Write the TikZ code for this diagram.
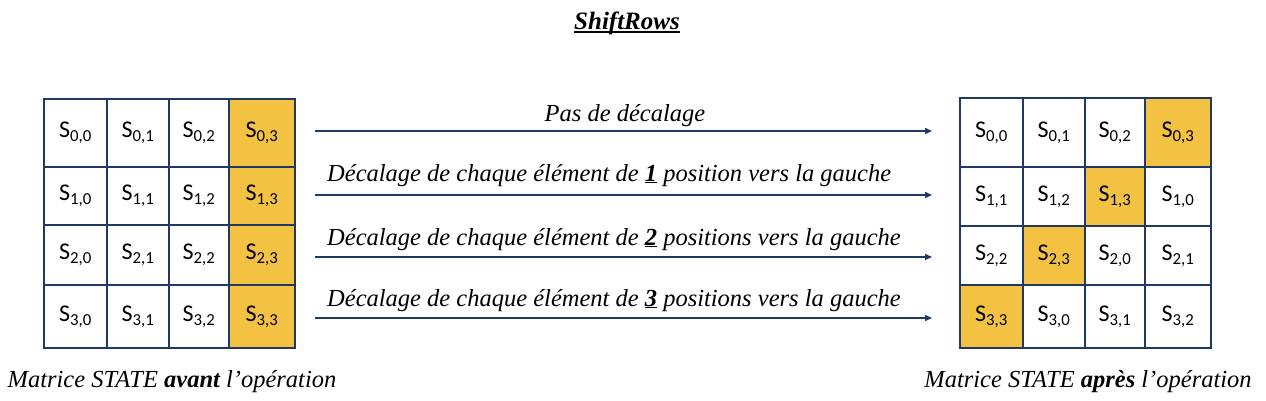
\documentclass[tikz,border=0pt]{standalone}
\usepackage{fontspec}
\setmainfont{Liberation Serif}
\newfontfamily\cellfont{Carlito}
\usetikzlibrary{arrows.meta}
\definecolor{navy}{RGB}{31,56,100}
\definecolor{gold}{RGB}{244,194,66}
\newcommand\thickul[1]{\setbox0\hbox{#1}\rlap{\rule[-4pt]{\wd0}{2.2pt}}\box0}
\tikzset{
  cell/.style={draw=navy, line width=1.5pt, inner sep=0pt, fill=#1,
    font=\cellfont\fontsize{24}{28}\selectfont},
  cell/.default=white,
  shiftarrow/.style={navy, line width=1.5pt, -{Triangle[length=7pt,width=6pt]}},
  caption/.style={font=\fontsize{24.5}{28}\selectfont\itshape, inner sep=0pt, anchor=base},
}
\begin{document}
\begin{tikzpicture}[x=1pt,y=-1pt]
\useasboundingbox (0,0) rectangle (1266,400);
% title
\node[font=\fontsize{25}{28}\selectfont\bfseries\itshape, inner sep=0pt, anchor=base] (title) at (627,29) {\thickul{ShiftRows}};
% STATE before
\foreach \r/\ya/\yb in {0/99/167,1/167/225,2/225/285,3/285/348}{
  \foreach \c/\xa/\xb in {0/44/107,1/107/169,2/169/229,3/229/295}{
    \def\fillcol{white}
    \ifnum\c=3 \def\fillcol{gold}\fi
    \node[cell=\fillcol, minimum width=\xb pt-\xa pt, minimum height=\yb pt-\ya pt]
      (L\r\c) at ({(\xa+\xb)/2},{(\ya+\yb)/2}) {S\textsubscript{\r,\c}};
  }
}
% STATE after
\foreach \r/\ya/\yb in {0/98/167,1/167/226,2/226/285,3/285/348}{
  \foreach \c/\xa/\xb in {0/960/1023,1/1023/1085,2/1085/1145,3/1145/1211}{
    \pgfmathtruncatemacro{\k}{mod(\c+\r,4)}
    \pgfmathtruncatemacro{\d}{\c+\r}
    \def\fillcol{white}
    \ifnum\d=3 \def\fillcol{gold}\fi
    \node[cell=\fillcol, minimum width=\xb pt-\xa pt, minimum height=\yb pt-\ya pt]
      (R\r\c) at ({(\xa+\xb)/2},{(\ya+\yb)/2}) {S\textsubscript{\r,\k}};
  }
}
% arrows
\foreach \i/\y in {0/131,1/195,2/257,3/318}{
  \coordinate (s\i) at (315,\y);
  \coordinate (e\i) at (932,\y);
  \draw[shiftarrow] (s\i) -- (e\i);
}
\node[caption] (pas) at (625,121) {Pas de décalage};
\foreach \i/\y/\n/\p in {1/181/1/position,2/245/2/positions,3/306/3/positions}
  \node[caption, anchor=base west] (dec\i) at (327,\y)
    {Décalage de chaque élément de \textbf{\underline{\n}} \p\ vers la gauche};
% captions
\node[caption] (avant) at (172,387) {Matrice STATE \textbf{avant} l'opération};
\node[caption] (apres) at (1088,387) {Matrice STATE \textbf{après} l'opération};
\end{tikzpicture}
\end{document}
